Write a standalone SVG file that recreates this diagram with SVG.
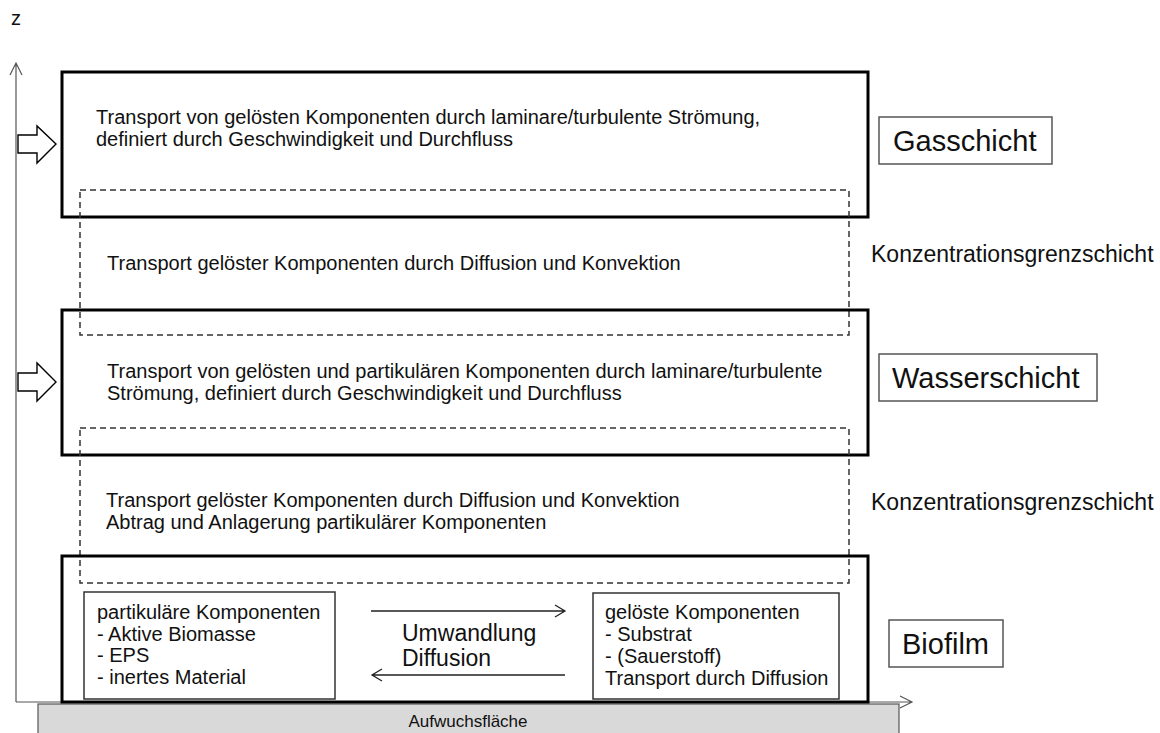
<svg xmlns="http://www.w3.org/2000/svg" width="1160" height="733" viewBox="0 0 1160 733">
<defs>
<style>
text{font-family:"Liberation Sans",Arial,sans-serif;fill:#111}
.t{font-size:20px}
.k{font-size:23px}
.lbl{font-size:29px}
.main{fill:none;stroke:#000;stroke-width:3}
.dash{fill:none;stroke:#333;stroke-width:1.5;stroke-dasharray:6 4}
.inner{fill:#fff;stroke:#333;stroke-width:1.5}
.lbox{fill:#fff;stroke:#555;stroke-width:1.5}
.ax{fill:none;stroke:#555;stroke-width:1.2}
.conn{fill:none;stroke:#222;stroke-width:1.3}
.blk{fill:#fff;stroke:#000;stroke-width:1.4;stroke-linejoin:miter}
</style>
</defs>
<rect width="1160" height="733" fill="#fff"/>

<g id="axes">
<text x="11" y="25" class="t">z</text>
<path class="ax" d="M16,702 V63 M10,75 L16,63 L22,75"/>
<path class="ax" d="M16,702 H912 M900,696 L912,702 L900,708"/>
</g>

<g id="aufwuchsflaeche">
<rect x="38" y="704" width="861" height="35" fill="#d9d9d9" stroke="#555" stroke-width="1.2"/>
<text x="468" y="727" font-size="17" text-anchor="middle">Aufwuchsfläche</text>
</g>

<g id="gasschicht">
<rect class="main" x="62" y="72" width="806" height="145"/>
<text class="t" x="96" y="124">Transport von gelösten Komponenten durch laminare/turbulente Strömung,</text>
<text class="t" x="96" y="146">definiert durch Geschwindigkeit und Durchfluss</text>
</g>

<g id="grenzschicht1">
<rect class="dash" x="80" y="190" width="769" height="145"/>
<text class="t" x="107" y="270">Transport gelöster Komponenten durch Diffusion und Konvektion</text>
</g>

<g id="wasserschicht">
<rect class="main" x="62" y="310" width="806" height="145"/>
<text class="t" x="107" y="378">Transport von gelösten und partikulären Komponenten durch laminare/turbulente</text>
<text class="t" x="107" y="400">Strömung, definiert durch Geschwindigkeit und Durchfluss</text>
</g>

<g id="grenzschicht2">
<rect class="dash" x="80" y="428" width="769" height="155"/>
<text class="t" x="106" y="507">Transport gelöster Komponenten durch Diffusion und Konvektion</text>
<text class="t" x="106" y="529">Abtrag und Anlagerung partikulärer Komponenten</text>
</g>

<g id="biofilm">
<rect class="main" x="62" y="556" width="806" height="146"/>
</g>

<g id="partikulaer">
<rect class="inner" x="84" y="592" width="251" height="107"/>
<text class="t" x="97" y="619">partikuläre Komponenten</text>
<text class="t" x="97" y="641">- Aktive Biomasse</text>
<text class="t" x="97" y="662">- EPS</text>
<text class="t" x="97" y="684">- inertes Material</text>
</g>

<g id="geloest">
<rect class="inner" x="593" y="593" width="246" height="106"/>
<text class="t" x="605" y="619">gelöste Komponenten</text>
<text class="t" x="605" y="641">- Substrat</text>
<text class="t" x="605" y="663">- (Sauerstoff)</text>
<text class="t" x="605" y="685">Transport durch Diffusion</text>
</g>

<g id="connectors">
<path class="conn" d="M371,611 H565 M555,605 L565,611 L555,617"/>
<path class="conn" d="M565,675 H372 M382,669 L372,675 L382,681"/>
<text class="k" x="402" y="641">Umwandlung</text>
<text class="k" x="402" y="666">Diffusion</text>
<path class="blk" d="M18,135 H37 V126 L56,144 L37,163 V153 H18 Z"/>
<path class="blk" d="M18,373 H37 V363 L56,382 L37,401 V391 H18 Z"/>
</g>

<g id="label-gasschicht">
<rect class="lbox" x="879" y="117" width="173" height="47"/>
<text class="lbl" x="893" y="151">Gasschicht</text>
</g>
<g id="label-konz1">
<text class="k" x="871" y="262">Konzentrationsgrenzschicht</text>
</g>
<g id="label-wasserschicht">
<rect class="lbox" x="879" y="354" width="218" height="47"/>
<text class="lbl" x="892" y="388">Wasserschicht</text>
</g>
<g id="label-konz2">
<text class="k" x="871" y="510">Konzentrationsgrenzschicht</text>
</g>
<g id="label-biofilm">
<rect class="lbox" x="889" y="620" width="114" height="47"/>
<text class="lbl" x="902" y="654">Biofilm</text>
</g>
</svg>
